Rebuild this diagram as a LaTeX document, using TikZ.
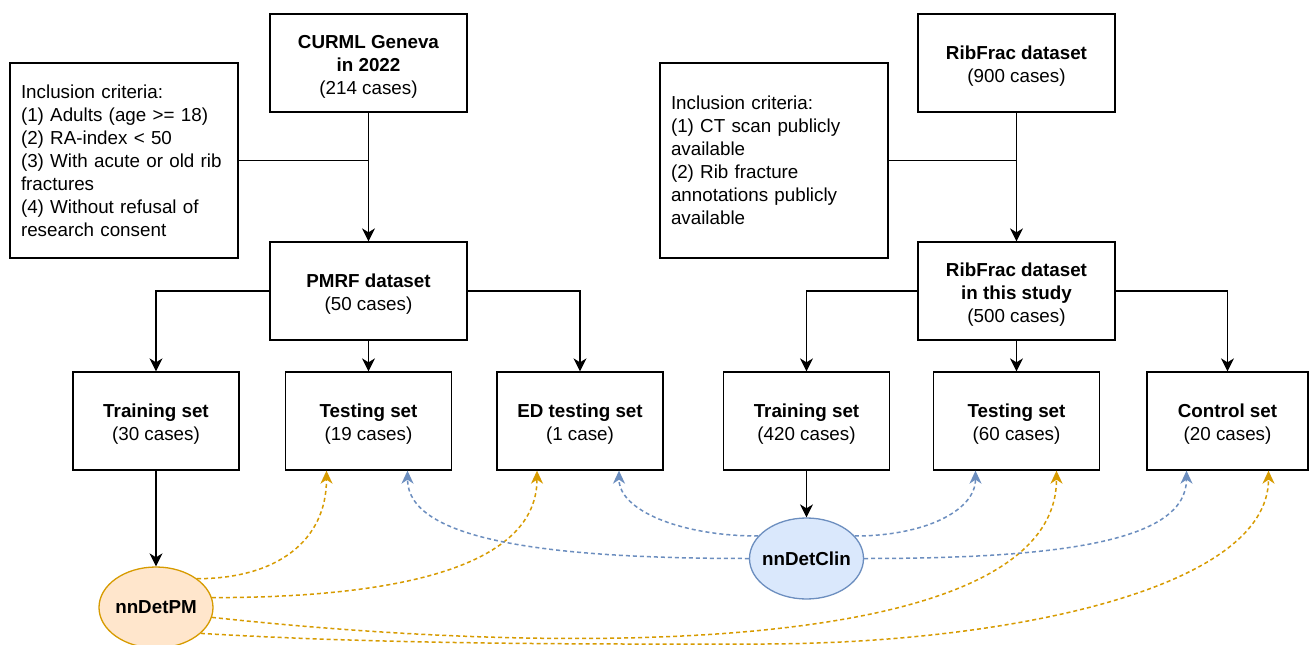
\documentclass[tikz,border=0pt]{standalone}
\usepackage{fontspec}
\setmainfont{Liberation Sans}
\usetikzlibrary{arrows.meta,shapes.geometric,calc}
\definecolor{orng}{HTML}{D79B00}
\definecolor{orngfill}{HTML}{FFE6CC}
\definecolor{blu}{HTML}{6C8EBF}
\definecolor{blufill}{HTML}{DAE8FC}
\newcommand{\myTopStrut}{\rule{0pt}{20pt}}
\begin{document}
\begin{tikzpicture}[x=1pt,y=-1pt,
  every node/.style={font=\fontsize{18.8}{23}\selectfont},
  box/.style={draw=black, line width=1.3pt, align=center, inner sep=0pt, minimum width=197pt, minimum height=98pt},
  sbox/.style={box, minimum width=166pt},
  critbox/.style={draw=black, line width=1.3pt, align=left, text width=206pt, inner xsep=11pt, inner ysep=0pt, minimum height=195pt},
  model/.style={ellipse, line width=1.3pt, minimum width=114pt, minimum height=81pt, inner sep=0pt, font=\fontsize{18.8}{23}\selectfont\bfseries},
  conn/.style={draw=black, line width=1.3pt},
  arr/.style={conn, -{Stealth[length=13pt,width=13pt,inset=4pt]}},
  odash/.style={draw=orng, line width=1.5pt, dash pattern=on 4pt off 3pt, -{Stealth[length=13pt,width=12pt,inset=4pt]}},
  bdash/.style={draw=blu, line width=1.5pt, dash pattern=on 4pt off 3pt, -{Stealth[length=13pt,width=12pt,inset=4pt]}}
]
\clip (0,0) rectangle (1309,645);
\fill[white] (0,0) rectangle (1309,645);

% left branch
\node[box] (curml) at (368.5,63) {\myTopStrut\textbf{CURML Geneva}\\\textbf{in 2022}\\(214 cases)};
\node[critbox] (inc1) at (124,160.5) {Inclusion criteria:\\(1) Adults (age >= 18)\\(2) RA-index < 50\\(3) With acute or old rib\\fractures\\(4) Without refusal of\\research consent};
\node[box] (pmrf) at (368.5,291) {\myTopStrut\textbf{PMRF dataset}\\(50 cases)};
\node[sbox] (train1) at (156,421) {\myTopStrut\textbf{Training set}\\(30 cases)};
\node[sbox] (test1) at (368.5,421) {\myTopStrut\textbf{Testing set}\\(19 cases)};
\node[sbox] (ed) at (580,421) {\myTopStrut\textbf{ED testing set}\\(1 case)};

% right branch
\node[box] (ribfrac) at (1016.5,63) {\myTopStrut\textbf{RibFrac dataset}\\(900 cases)};
\node[critbox] (inc2) at (774,160.5) {Inclusion criteria:\\(1) CT scan publicly\\available\\(2) Rib fracture\\annotations publicly\\available};
\node[box] (ribstudy) at (1016.5,291) {\myTopStrut\textbf{RibFrac dataset}\\\textbf{in this study}\\(500 cases)};
\node[sbox] (train2) at (806.5,421) {\myTopStrut\textbf{Training set}\\(420 cases)};
\node[sbox] (test2) at (1016.5,421) {\myTopStrut\textbf{Testing set}\\(60 cases)};
\node[sbox, minimum width=161pt] (ctrl) at (1227.5,421) {\myTopStrut\textbf{Control set}\\(20 cases)};

% models
\node[model, draw=orng, fill=orngfill] (pm) at (156,607.5) {\makebox[0pt]{nnDetPM}};
\node[model, draw=blu, fill=blufill] (clin) at (806.5,558.5) {\makebox[0pt]{nnDetClin}};

% solid connectors
\draw[arr] (curml.south) -- (pmrf.north);
\draw[conn] (inc1.east) -- (inc1.east -| curml.south);
\draw[arr] (pmrf.west) -| (train1.north);
\draw[arr] (pmrf.south) -- (test1.north);
\draw[arr] (pmrf.east) -| (ed.north);
\draw[arr] (train1.south) -- (pm.north);

\draw[arr] (ribfrac.south) -- (ribstudy.north);
\draw[conn] (inc2.east) -- (inc2.east -| ribfrac.south);
\draw[arr] (ribstudy.west) -| (train2.north);
\draw[arr] (ribstudy.south) -- (test2.north);
\draw[arr] (ribstudy.east) -| (ctrl.north);
\draw[arr] (train2.south) -- (clin.north);

% nnDetPM dashed links
\draw[odash] (pm.35) .. controls +(80,0) and +(0,70) .. ([xshift=-42pt]test1.south);
\draw[odash] (pm.10) .. controls +(190,0) and +(0,95) .. ([xshift=-43pt]ed.south);
\draw[odash] (pm.-10) .. controls +(388,42) and +(0,180) .. ([xshift=40pt]test2.south);
\draw[odash] (pm.-30) .. controls +(200,12) and (620,644) .. (760,644)
  .. controls (1000,644) and ([xshift=41pt,yshift=-120pt]ctrl.south) .. ([xshift=41pt]ctrl.south);

% nnDetClin dashed links
\draw[bdash] (clin.180) .. controls +(-200,0) and +(0,70) .. ([xshift=39pt]test1.south);
\draw[bdash] (clin.155) .. controls +(-77,0) and +(0,40) .. ([xshift=39pt]ed.south);
\draw[bdash] (clin.25) .. controls +(70,0) and +(0,40) .. ([xshift=-41pt]test2.south);
\draw[bdash] (clin.0) .. controls +(200,0) and +(0,70) .. ([xshift=-41pt]ctrl.south);
\end{tikzpicture}
\end{document}
